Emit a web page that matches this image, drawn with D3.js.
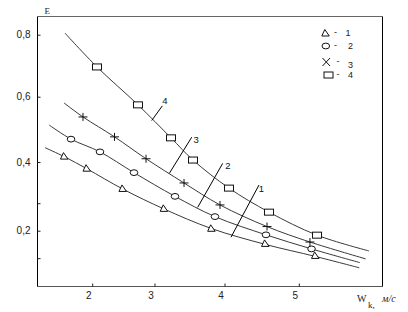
<!DOCTYPE html>
<html><head><meta charset="utf-8">
<script src="https://cdn.jsdelivr.net/npm/d3@7"></script>
<style>body{margin:0;background:#fff}svg{display:block}</style>
</head><body><svg id="c" width="408" height="312"></svg>
<script>
// ---- data ----
const xTickValues = [2, 3, 4, 5];
const xTickLabels = ["2", "3", "4", "5"];
const yTickValues = [0.2, 0.4, 0.6, 0.8];
const yTickLabels = ["0,2", "0,4", "0,6", "0,8"];
const yMinorTicks = [0.12, 0.28];
const seriesNames = ["1", "2", "3", "4"];
const yTitle = "E";
const xTitle = "W";
const xTitleSub = "k,";
const xUnit = "м/с";

// measured points (W_k, E)
const points1 = [[1.563,0.418],[1.925,0.382],[2.502,0.323],[3.146,0.265],[3.824,0.207],[4.559,0.163],[5.232,0.128]];
const points2 = [[1.668,0.470],[2.133,0.431],[2.679,0.369],[3.300,0.300],[3.871,0.241],[4.565,0.188],[5.178,0.147]];
const points3 = [[1.860,0.538],[2.366,0.477],[2.872,0.410],[3.429,0.339],[3.943,0.275],[4.579,0.212],[5.157,0.167]];
const points4 = [[2.085,0.696],[2.743,0.575],[3.243,0.474],[3.557,0.406],[4.067,0.324],[4.606,0.254],[5.252,0.187]];

// fitted curves
const curve1 = [[1.250,0.444],[1.563,0.416],[1.925,0.380],[2.502,0.321],[3.146,0.263],[3.824,0.206],[4.559,0.160],[5.232,0.125],[5.821,0.092]];
const curve2 = [[1.319,0.513],[1.668,0.470],[2.133,0.431],[2.679,0.369],[3.300,0.300],[3.871,0.241],[4.565,0.188],[5.178,0.147],[5.830,0.107]];
const curve3 = [[1.555,0.581],[1.860,0.538],[2.366,0.477],[2.872,0.410],[3.429,0.339],[3.943,0.275],[4.579,0.212],[5.157,0.167],[5.907,0.118]];
const curve4 = [[1.571,0.805],[2.085,0.696],[2.743,0.575],[3.243,0.474],[3.557,0.406],[4.067,0.324],[4.606,0.254],[5.252,0.187],[5.952,0.141]];

// curve label leaders: [from x, from E, to x, to E, label x, label E]
const leader1 = [4.094,0.181,4.471,0.333,4.502,0.323];
const leader2 = [3.624,0.268,3.981,0.396,4.054,0.390];
const leader3 = [3.219,0.367,3.539,0.476,3.603,0.467];
const leader4 = [2.963,0.527,3.119,0.572,3.154,0.588];

// ---- layout ----
const L = 37.5, R = 382.5, T = 16.5, B = 286.5;
const svg = d3.select("#c");

// scanned axes are slightly non-uniform: piecewise calibrated scales
const x = d3.scaleLinear().domain(xTickValues).range([91.7, 154, 224, 298.3]);
const y = d3.scaleLinear().domain(yTickValues).range([230.7, 162, 96.7, 34.7]);

const sans = "'Liberation Sans', Arial, sans-serif";
const serif = "'Liberation Serif', 'Times New Roman', serif";

// frame
svg.append("line").attr("x1", L).attr("x2", R).attr("y1", T).attr("y2", T).attr("stroke", "#666");
svg.append("line").attr("x1", L).attr("x2", R).attr("y1", B).attr("y2", B).attr("stroke", "#555");
svg.append("line").attr("x1", L).attr("x2", L).attr("y1", T).attr("y2", B).attr("stroke", "#000");
svg.append("line").attr("x1", R).attr("x2", R).attr("y1", T).attr("y2", B).attr("stroke", "#000");

// x axis ticks (inside) using d3 axis
const xAxis = svg.append("g").attr("transform", `translate(0,${B})`)
  .call(d3.axisTop(x).tickValues(xTickValues).tickSize(3).tickFormat(""));
xAxis.select(".domain").remove();
xAxis.selectAll("line").attr("stroke", "#222").attr("transform", "translate(0.5,0)");
svg.selectAll(".xlab").data(xTickValues).enter().append("text")
  .attr("x", d => x(d) - 3).attr("y", 299)
  .attr("text-anchor", "middle").attr("font-family", sans).attr("font-size", 10).attr("fill", "#222")
  .text((d, i) => xTickLabels[i]);

// y axis ticks (inside)
const yAxis = svg.append("g").attr("transform", `translate(${L},0)`)
  .call(d3.axisRight(y).tickValues(yTickValues.concat(yMinorTicks)).tickSize(3).tickFormat(""));
yAxis.select(".domain").remove();
yAxis.selectAll("line").attr("stroke", "#222");
svg.selectAll(".ylab").data(yTickValues).enter().append("text")
  .attr("x", 30.5).attr("y", d => y(d)).attr("dy", "0.35em")
  .attr("text-anchor", "end").attr("font-family", sans).attr("font-size", 10).attr("fill", "#222")
  .text((d, i) => yTickLabels[i]);

// titles
svg.append("text").attr("x", 44.5).attr("y", 13.5).attr("font-family", serif).attr("font-size", 9).attr("fill", "#222").text(yTitle);
svg.append("text").attr("x", 357).attr("y", 302).attr("font-family", serif).attr("font-size", 10).attr("fill", "#222").text(xTitle);
svg.append("text").attr("x", 368).attr("y", 308).attr("font-family", serif).attr("font-size", 9).attr("fill", "#222").text(xTitleSub);
svg.append("text").attr("x", 382).attr("y", 301.5).attr("font-family", serif).attr("font-style", "italic").attr("font-size", 10).attr("fill", "#222").text(xUnit);

// curves
const line = d3.line().x(d => x(d[0])).y(d => y(d[1])).curve(d3.curveCatmullRom.alpha(0.5));
[curve1, curve2, curve3, curve4].forEach(c => {
  svg.append("path").attr("d", line(c)).attr("fill", "none").attr("stroke", "#3a3a3a").attr("stroke-width", 1);
});

// marker shapes
function drawMarker(g, type, cx, cy) {
  const st = {stroke: "#111", "stroke-width": 1, fill: "#fff"};
  let el;
  if (type === 0) {
    el = g.append("path").attr("d", `M${cx - 4},${cy + 3}L${cx + 3.5},${cy + 3}L${cx - 1},${cy - 3.5}Z`);
  } else if (type === 1) {
    el = g.append("ellipse").attr("cx", cx).attr("cy", cy).attr("rx", 3.8).attr("ry", 2.9);
  } else if (type === 2) {
    el = g.append("path").attr("d", `M${cx - 4.5},${cy}L${cx + 4.5},${cy}M${cx},${cy - 4}L${cx},${cy + 4}`).attr("fill", "none");
    el.attr("stroke", "#111");
    return;
  } else {
    el = g.append("rect").attr("x", cx - 4.5).attr("y", cy - 3).attr("width", 9).attr("height", 6);
  }
  Object.entries(st).forEach(([k, v]) => el.attr(k, v));
}

const mg = svg.append("g");
[points1, points2, points3, points4].forEach((pts, si) => {
  pts.forEach(p => drawMarker(mg, si, x(p[0]), y(p[1])));
});

// leaders and curve numbers
[leader1, leader2, leader3, leader4].forEach((ld, i) => {
  svg.append("line").attr("x1", x(ld[0])).attr("y1", y(ld[1])).attr("x2", x(ld[2])).attr("y2", y(ld[3]))
    .attr("stroke", "#000").attr("stroke-width", 1);
  svg.append("text").attr("x", x(ld[4])).attr("y", y(ld[5])).attr("dy", "0.35em").attr("text-anchor", "middle")
    .attr("font-family", sans).attr("font-size", 9.5).attr("fill", "#111").text(seriesNames[i]);
});

// legend
const legY = [33, 46, 62, 75];
const lg = svg.append("g");
seriesNames.forEach((n, i) => {
  if (i === 2) {
    lg.append("path").attr("d", `M${322.5},${legY[i] - 4}L${330},${legY[i] + 4}M${330},${legY[i] - 4}L${322.5},${legY[i] + 4}`)
      .attr("stroke", "#111").attr("fill", "none");
  } else {
    drawMarker(lg, i, i === 3 ? 328.5 : 325.8, legY[i]);
  }
  lg.append("text").attr("x", i < 2 ? 334 : 336.5).attr("y", legY[i] - 1).attr("dy", "0.35em")
    .attr("font-family", sans).attr("font-size", 9).attr("fill", "#222").text("-");
  lg.append("text").attr("x", i === 0 ? 345.5 : 348).attr("y", legY[i] + (i === 2 ? 3 : 0)).attr("dy", "0.35em")
    .attr("font-family", sans).attr("font-size", 9).attr("fill", "#222").text(n);
});
</script>
</body></html>
